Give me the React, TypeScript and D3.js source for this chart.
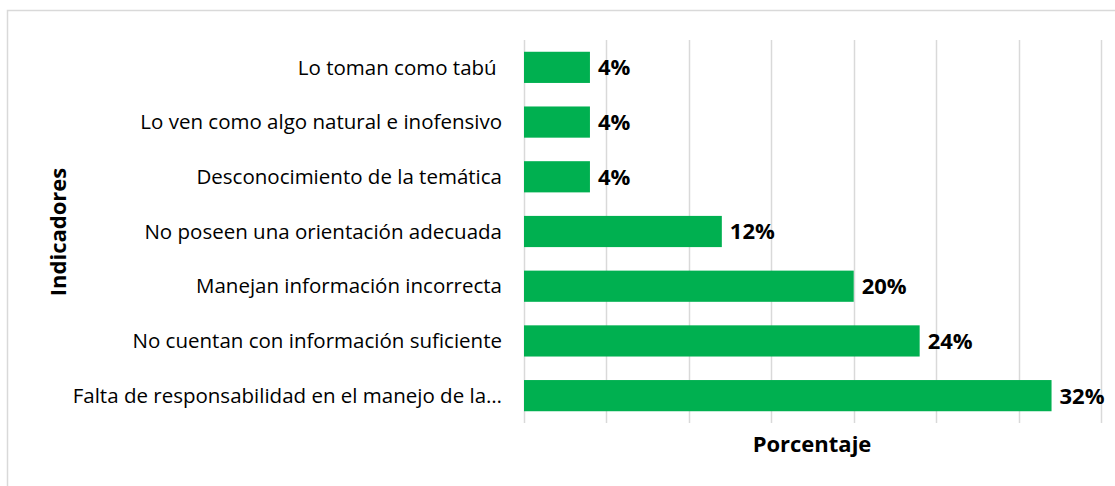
import React, { useRef, useEffect } from 'react';
import * as d3 from 'd3';

// categories from top to bottom, values in percent
const categories = [
  'Lo toman como tabú ',
  'Lo ven como algo natural e inofensivo',
  'Desconocimiento de la temática',
  'No poseen una orientación adecuada',
  'Manejan información incorrecta',
  'No cuentan con información suficiente',
  'Falta de responsabilidad en el manejo de la…',
];
const values = [4, 4, 4, 12, 20, 24, 32];
const gridTicks = [0, 5, 10, 15, 20, 25, 30, 35];

const W = 1115;
const H = 486;
const FONT = '"Open Sans", Lato, sans-serif';

function App() {
  const svgRef = useRef<SVGSVGElement | null>(null);

  useEffect(() => {
    const svg = d3.select(svgRef.current);
    svg.selectAll('*').remove();

    const margin = { top: 40, right: 14, bottom: 63, left: 524 };
    const height = H - margin.top - margin.bottom;

    // outer frame of the chart object
    svg.append('rect')
      .attr('x', 7.5)
      .attr('y', 10.5)
      .attr('width', W + 10)
      .attr('height', H + 10)
      .attr('fill', 'white')
      .attr('stroke', '#d9d9d9')
      .attr('stroke-width', 1.5);

    const g = svg.append('g').attr('transform', `translate(${margin.left},${margin.top})`);

    const x = d3.scaleLinear().domain([0, 35]).range([0, 577]);
    const y = d3.scaleBand().domain(categories).range([0, height]).paddingInner(0.43).paddingOuter(0.215);

    // vertical gridlines
    g.append('g')
      .selectAll('line')
      .data(gridTicks)
      .enter()
      .append('line')
      .attr('x1', d => Math.round(x(d)) + 0.5)
      .attr('x2', d => Math.round(x(d)) + 0.5)
      .attr('y1', 0)
      .attr('y2', height)
      .attr('stroke', '#d9d9d9')
      .attr('stroke-width', 1.5);

    // bars
    g.append('g')
      .selectAll('rect')
      .data(values)
      .enter()
      .append('rect')
      .attr('x', 0)
      .attr('y', (d, i) => y(categories[i]) as number)
      .attr('width', d => x(d))
      .attr('height', y.bandwidth())
      .attr('fill', '#00b050');

    // category labels
    g.append('g')
      .selectAll('text')
      .data(categories)
      .enter()
      .append('text')
      .attr('x', -22)
      .attr('y', d => (y(d) as number) + y.bandwidth() / 2)
      .attr('dy', '0.35em')
      .attr('text-anchor', 'end')
      .style('white-space', 'pre')
      .attr('font-family', FONT)
      .attr('font-size', 20.5)
      .attr('fill', '#000')
      .text(d => d);

    // value labels
    g.append('g')
      .selectAll('text')
      .data(values)
      .enter()
      .append('text')
      .attr('x', d => x(d) + 8)
      .attr('y', (d, i) => (y(categories[i]) as number) + y.bandwidth() / 2)
      .attr('dy', '0.36em')
      .attr('font-family', FONT)
      .attr('font-weight', 'bold')
      .attr('font-size', 22)
      .attr('fill', '#000')
      .text(d => `${d}%`);

    // axis titles
    svg.append('text')
      .attr('x', 812)
      .attr('y', 452)
      .attr('text-anchor', 'middle')
      .attr('font-family', FONT)
      .attr('font-weight', 'bold')
      .attr('font-size', 22)
      .attr('fill', '#000')
      .text('Porcentaje');

    svg.append('text')
      .attr('transform', 'translate(66,232) rotate(-90)')
      .attr('text-anchor', 'middle')
      .attr('font-family', FONT)
      .attr('font-weight', 'bold')
      .attr('font-size', 22)
      .attr('fill', '#000')
      .text('Indicadores');
  }, []);

  return (
    <div style={{ position: 'fixed', left: 0, top: 0 }}>
      <svg ref={svgRef} width={W} height={H} style={{ display: 'block', background: 'white' }} />
    </div>
  );
}

export default App;
